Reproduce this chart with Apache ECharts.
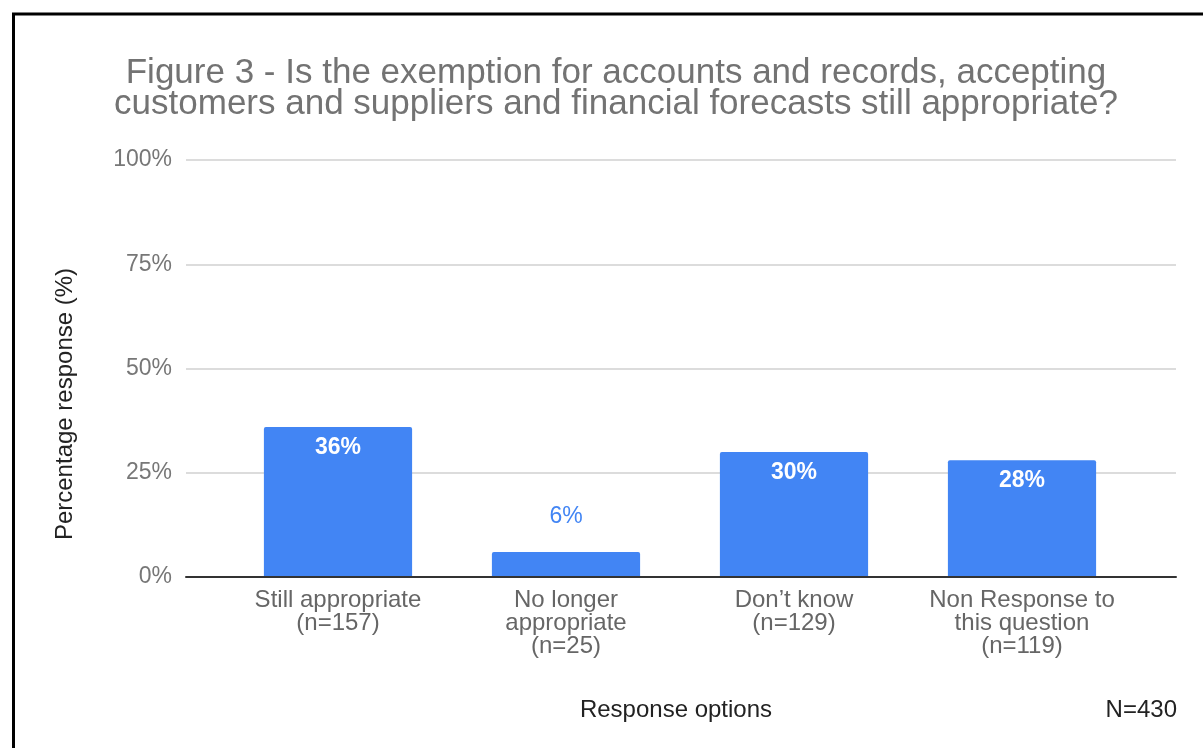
<!DOCTYPE html>
<html>
<head>
<meta charset="utf-8">
<title>Figure 3</title>
<script src="https://cdn.jsdelivr.net/npm/echarts@6/dist/echarts.min.js"></script>
<style>
  html, body { margin: 0; padding: 0; background: #fff; }
  #chart { width: 1203px; height: 748px; }
</style>
</head>
<body>
<div id="chart"></div>
<script>
// data
const categories = [
  'Still appropriate\n(n=157)',
  'No longer\nappropriate\n(n=25)',
  'Don’t know\n(n=129)',
  'Non Response to\nthis question\n(n=119)'
]
const percents = [36, 6, 30, 28]
const yTicks = [0, 25, 50, 75, 100]

const blue = '#4285f4'
const font = '"Liberation Sans", Arial, sans-serif'

const chart = echarts.init(document.getElementById('chart'))

chart.setOption({
  animation: false,
  title: {
    text: 'Figure 3 - Is the exemption for accounts and records, accepting\ncustomers and suppliers and financial forecasts still appropriate?',
    left: 611,
    top: 53,
    textAlign: 'center',
    textStyle: {
      fontFamily: font,
      fontSize: 35,
      fontWeight: 'normal',
      color: '#737373',
      lineHeight: 31
    }
  },
  grid: [
    // wide grid: gridlines + baseline
    { left: 186, right: 27, top: 160, bottom: 171 },
    // bar grid, narrower like the original
    { left: 224, right: 67, top: 160, bottom: 171 }
  ],
  xAxis: [
    {
      gridIndex: 0,
      type: 'value',
      min: 0,
      max: 1,
      z: 5,
      axisLine: { show: true, lineStyle: { color: '#333', width: 2 } },
      axisTick: { show: false },
      axisLabel: { show: false },
      splitLine: { show: false }
    },
    {
      gridIndex: 1,
      type: 'category',
      data: categories,
      axisLine: { show: false },
      axisTick: { show: false },
      axisLabel: {
        interval: 0,
        margin: 12,
        fontFamily: font,
        fontSize: 24,
        lineHeight: 23,
        color: '#666'
      }
    }
  ],
  yAxis: [
    {
      gridIndex: 0,
      type: 'value',
      min: yTicks[0],
      max: yTicks[yTicks.length - 1],
      interval: 25,
      axisLine: { show: false },
      axisTick: { show: false },
      axisLabel: {
        formatter: '{value}%',
        margin: 14,
        fontFamily: font,
        fontSize: 23,
        color: '#777'
      },
      splitLine: { lineStyle: { color: '#d0d0d0', width: 1.5 } }
    },
    {
      gridIndex: 1,
      type: 'value',
      min: yTicks[0],
      max: yTicks[yTicks.length - 1],
      show: false,
      splitLine: { show: false }
    }
  ],
  graphic: [
    {
      type: 'rect',
      shape: { x: 13.5, y: 14, width: 1200, height: 760 },
      style: { fill: 'none', stroke: '#000', lineWidth: 3 }
    },
    {
      type: 'text',
      x: 65,
      y: 404,
      rotation: Math.PI / 2,
      style: {
        text: 'Percentage response (%)',
        font: '24px ' + font,
        fill: '#222',
        textAlign: 'center',
        textVerticalAlign: 'middle'
      }
    },
    {
      type: 'text',
      x: 676,
      y: 710,
      style: {
        text: 'Response options',
        font: '24px ' + font,
        fill: '#222',
        textAlign: 'center',
        textVerticalAlign: 'middle'
      }
    },
    {
      type: 'text',
      x: 1177,
      y: 710,
      style: {
        text: 'N=430',
        font: '24px ' + font,
        fill: '#222',
        textAlign: 'right',
        textVerticalAlign: 'middle'
      }
    }
  ],
  series: [
    {
      type: 'bar',
      xAxisIndex: 1,
      yAxisIndex: 1,
      barWidth: '65%',
      itemStyle: { color: blue, borderRadius: [2, 2, 0, 0] },
      data: percents.map(v => ({
        value: v,
        label: v < 10
          ? { position: 'top', distance: 24, color: blue, fontWeight: 'normal' }
          : { position: 'insideTop', distance: 9, color: '#fff', fontWeight: 'bold' }
      })),
      label: {
        show: true,
        formatter: '{c}%',
        fontFamily: font,
        fontSize: 23
      }
    }
  ]
})
</script>
</body>
</html>
